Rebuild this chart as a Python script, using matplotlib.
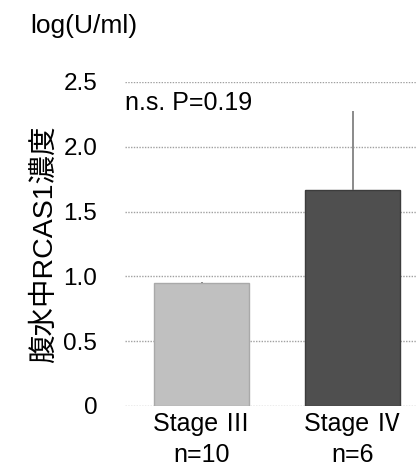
import matplotlib
matplotlib.use("Agg")
import matplotlib.pyplot as plt

# values
stages = ["Stage Ⅲ", "Stage Ⅳ"]
counts = ["n=10", "n=6"]
means = [0.95, 1.67]
upper_err = [0.01, 0.61]
bar_colors = ["#c0c0c0", "#4f4f4f"]
edge_colors = ["#a9a9a9", "#3c3c3c"]
yticks = [0, 0.5, 1.0, 1.5, 2.0, 2.5]
ytick_labels = ["0", "0.5", "1.0", "1.5", "2.0", "2.5"]

plt.rcParams["font.family"] = ["Liberation Sans", "Noto Sans CJK JP", "DejaVu Sans"]

fig = plt.figure(figsize=(4.16, 4.67), dpi=100)
ax = fig.add_axes([125 / 416, 1 - 406 / 467, 291 / 416, 324 / 467])

x = list(range(len(stages)))
ax.bar(x, means, width=0.63, color=bar_colors, edgecolor=edge_colors,
       linewidth=1, zorder=2)
ax.errorbar(x, means, yerr=[[0, 0], upper_err], fmt="none",
            ecolor="#8a8a8a", elinewidth=1.4, capsize=0, zorder=3)

ax.set_xlim(-0.507, 1.42)
ax.set_ylim(0, 2.5)
ax.set_yticks(yticks)
ax.set_yticklabels(ytick_labels, fontsize=17.5)
ax.set_xticks(x)
ax.set_xticklabels([s + "\n" + n for s, n in zip(stages, counts)],
                   fontsize=18, linespacing=1.4)
ax.tick_params(axis="y", length=0, pad=20)
ax.tick_params(axis="x", length=0, pad=4)
ax.grid(axis="y", linestyle=(0, (1, 1)), color="#a0a0a0", linewidth=1, zorder=0)
ax.set_axisbelow(True)
for s in ax.spines.values():
    s.set_visible(False)

ax.set_ylabel("腹水中RCAS1濃度", fontsize=20.5, labelpad=4)
ax.text(-0.507, 2.43, "n.s. P=0.19", fontsize=18, va="top", ha="left")
fig.text(30 / 416, 1 - 14 / 467, "log(U/ml)", fontsize=19, va="top", ha="left")

fig.savefig("out.png", dpi=100)
